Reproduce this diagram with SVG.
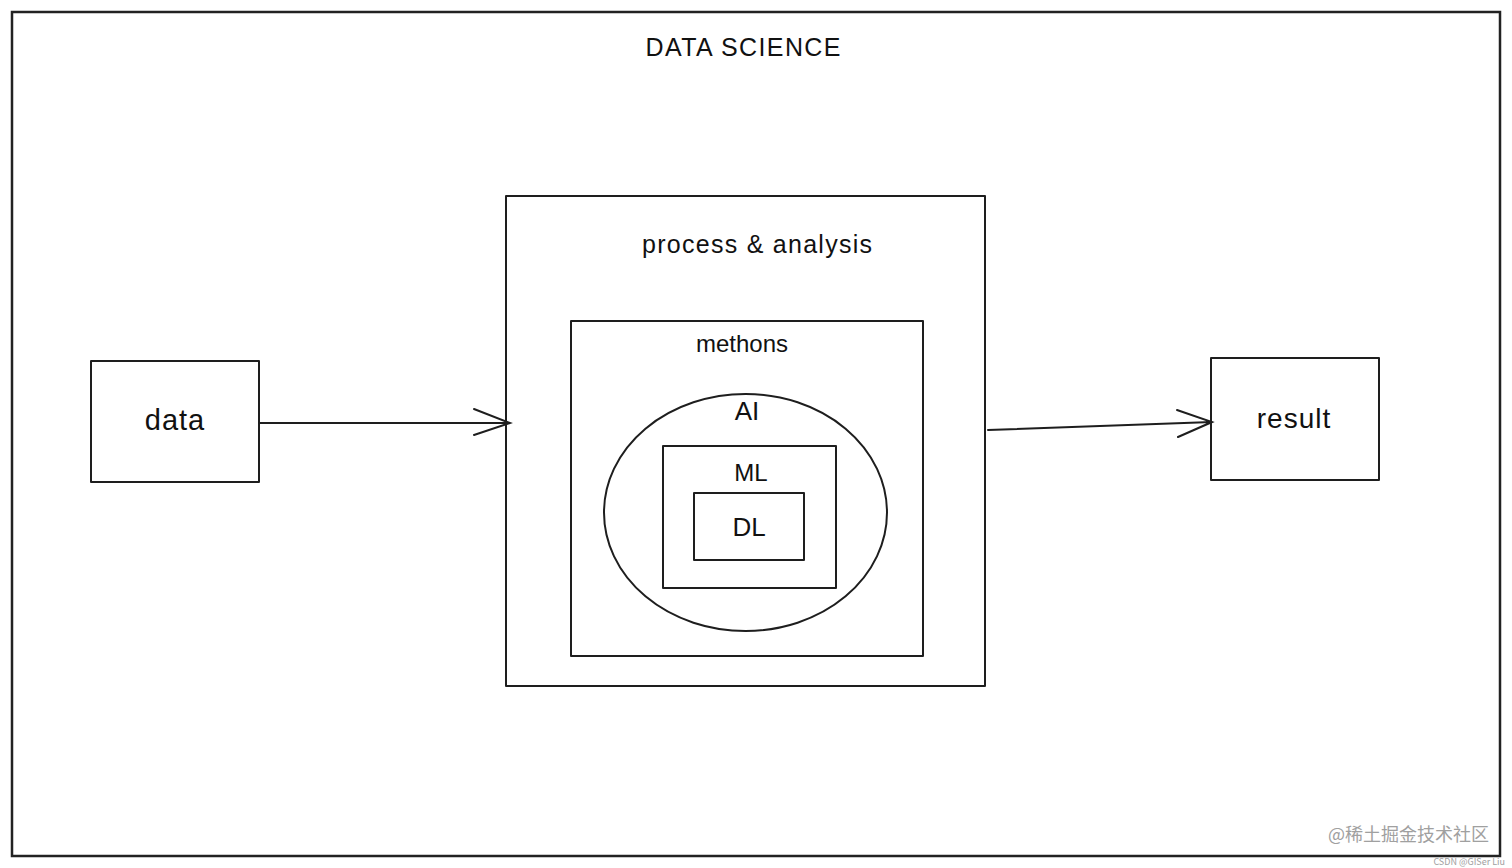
<svg xmlns="http://www.w3.org/2000/svg" width="1512" height="868" viewBox="0 0 1512 868">
<style>
.box{fill:none;stroke:#1e1e1e;stroke-width:2;stroke-linejoin:round;stroke-linecap:round}
.frame{fill:none;stroke:#222;stroke-width:2.5}
.lbl{font-family:"Liberation Sans",Arial,sans-serif;fill:#111;text-anchor:middle}
.conn{fill:none;stroke:#1e1e1e;stroke-width:2;stroke-linecap:round}
.wm{font-family:"Noto Sans CJK SC","Liberation Sans",sans-serif;fill:#a0a0a0}
</style>
<rect width="1512" height="868" fill="#fff"/>
<rect class="frame" x="12" y="12" width="1488" height="844"/>
<g id="title"><text class="lbl" x="743" y="56" font-size="25" textLength="195" lengthAdjust="spacing">DATA SCIENCE</text></g>
<g id="data">
<rect class="box" x="91" y="361" width="168" height="121"/>
<text class="lbl" x="175" y="430" font-size="29" letter-spacing="1">data</text>
</g>
<g id="process">
<rect class="box" x="506" y="196" width="479" height="490"/>
<text class="lbl" x="757" y="253" font-size="25" textLength="230" lengthAdjust="spacing">process &amp; analysis</text>
</g>
<g id="methons">
<rect class="box" x="571" y="321" width="352" height="335"/>
<text class="lbl" x="742" y="352" font-size="24">methons</text>
</g>
<g id="ai">
<ellipse class="box" cx="745.5" cy="512.5" rx="141.5" ry="118.5"/>
<text class="lbl" x="747" y="420" font-size="26">AI</text>
</g>
<g id="ml">
<rect class="box" x="663" y="446" width="173" height="142"/>
<text class="lbl" x="751" y="481" font-size="24">ML</text>
</g>
<g id="dl">
<rect class="box" x="694" y="493" width="110" height="67"/>
<text class="lbl" x="749" y="536" font-size="26">DL</text>
</g>
<g id="result">
<rect class="box" x="1211" y="358" width="168" height="122"/>
<text class="lbl" x="1294" y="428" font-size="28" letter-spacing="1">result</text>
</g>
<g id="connectors">
<path class="conn" d="M259 423 L510 423 M474 409 L510 423 L474 435"/>
<path class="conn" d="M988 430 L1212 422 M1177 410 L1212 422 L1178 437"/>
</g>
<g id="watermark">
<text class="wm" x="1328" y="841" font-size="18">@稀土掘金技术社区</text>
<text class="wm" x="1505" y="865" font-size="9" text-anchor="end" fill="#aaa">CSDN @GISer Liu</text>
</g>
</svg>
